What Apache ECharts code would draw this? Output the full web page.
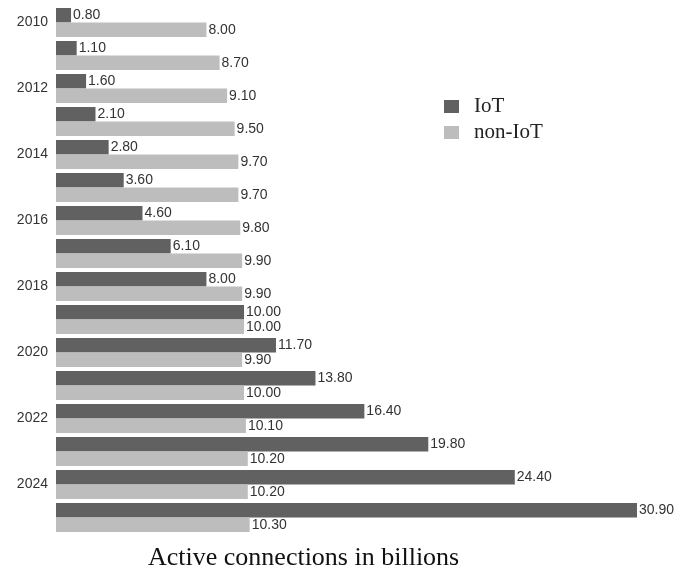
<!DOCTYPE html>
<html>
<head>
<meta charset="utf-8">
<script src="https://cdn.jsdelivr.net/npm/echarts@6/dist/echarts.min.js"></script>
<style>
  html, body { margin: 0; padding: 0; background: #fff; }
  #chart { width: 681px; height: 571px; }
</style>
</head>
<body>
<div id="chart"></div>
<script>
// Active connections per year, in billions
const years = ['2010','2011','2012','2013','2014','2015','2016','2017',
               '2018','2019','2020','2021','2022','2023','2024','2025'];
const iot    = [0.8, 1.1, 1.6, 2.1, 2.8, 3.6, 4.6, 6.1, 8.0, 10.0, 11.7, 13.8, 16.4, 19.8, 24.4, 30.9];
const nonIot = [8.0, 8.7, 9.1, 9.5, 9.7, 9.7, 9.8, 9.9, 9.9, 10.0, 9.9, 10.0, 10.1, 10.2, 10.2, 10.3];

const labelStyle = {
  show: true,
  position: 'right',
  distance: 2,
  color: '#333',
  fontSize: 14,
  fontFamily: 'Liberation Sans, Arial, sans-serif',
  formatter: p => p.value.toFixed(2)
};

const chart = echarts.init(document.getElementById('chart'));
chart.setOption({
  animation: false,
  grid: { left: 56, right: 44, top: 6, bottom: 37 },
  legend: {
    orient: 'vertical',
    left: 444,
    top: 96,
    padding: 0,
    itemWidth: 15,
    itemHeight: 13,
    itemGap: 5,
    icon: 'rect',
    textStyle: { fontFamily: 'Liberation Serif, Times New Roman, serif', fontSize: 21, color: '#222', padding: [0, 0, 0, 10] },
    data: ['IoT', 'non-IoT']
  },
  xAxis: {
    type: 'value',
    min: 0,
    max: 30.9,
    show: false
  },
  yAxis: {
    type: 'category',
    data: years,
    inverse: true,
    axisLine: { show: false },
    axisTick: { show: false },
    axisLabel: {
      interval: 1,
      color: '#333',
      fontSize: 14,
      fontFamily: 'Liberation Sans, Arial, sans-serif',
      margin: 8
    },
    splitLine: { show: false }
  },
  graphic: [{
    type: 'text',
    left: 148,
    top: 545,
    style: {
      text: 'Active connections in billions',
      font: '26px "Liberation Serif", "Times New Roman", serif',
      fill: '#111'
    }
  }],
  series: [
    {
      name: 'IoT',
      type: 'bar',
      data: iot,
      barGap: '0%',
      barCategoryGap: '12%',
      itemStyle: { color: '#616161' },
      label: labelStyle
    },
    {
      name: 'non-IoT',
      type: 'bar',
      data: nonIot,
      itemStyle: { color: '#bdbdbd' },
      label: labelStyle
    }
  ]
});
</script>
</body>
</html>
